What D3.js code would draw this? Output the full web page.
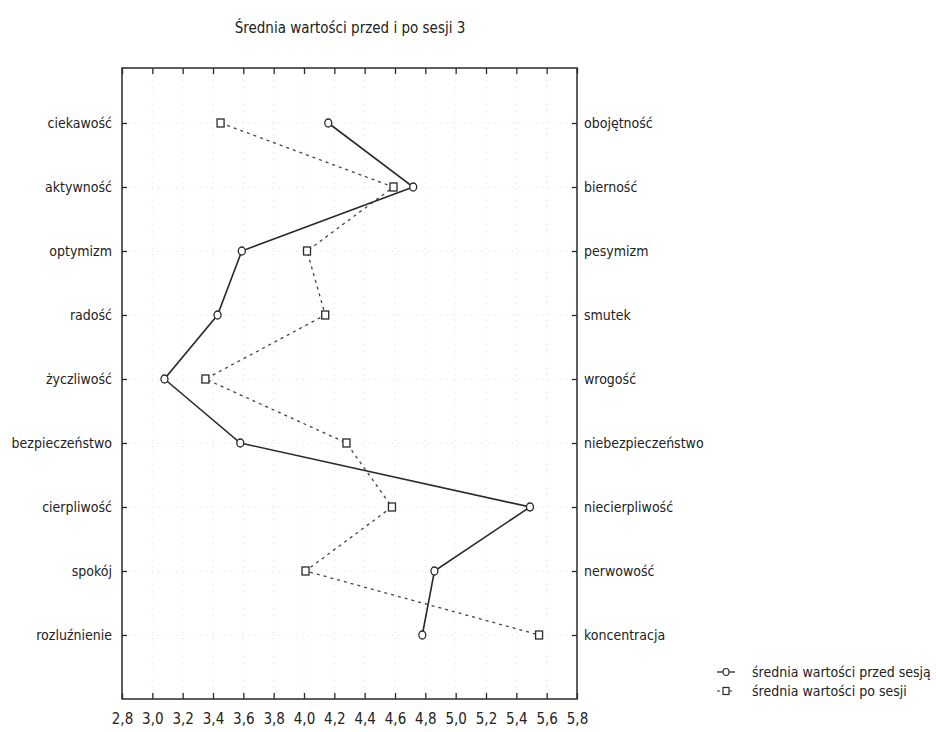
<!DOCTYPE html>
<html>
<head>
<meta charset="utf-8">
<script src="https://cdn.jsdelivr.net/npm/d3@7"></script>
<style>
  body { margin: 0; background: #fff; }
  text { font-family: "Liberation Sans Narrow", "DejaVu Sans Condensed", "Liberation Sans", sans-serif; fill: #222; }
</style>
</head>
<body>
<div id="chart"></div>
<script>
const leftLabels = ['ciekawość', 'aktywność', 'optymizm', 'radość', 'życzliwość', 'bezpieczeństwo', 'cierpliwość', 'spokój', 'rozluźnienie'];
const rightLabels = ['obojętność', 'bierność', 'pesymizm', 'smutek', 'wrogość', 'niebezpieczeństwo', 'niecierpliwość', 'nerwowość', 'koncentracja'];
const beforeValues = [4.16, 4.72, 3.59, 3.43, 3.08, 3.58, 5.49, 4.86, 4.78];
const afterValues = [3.45, 4.59, 4.02, 4.14, 3.35, 4.28, 4.58, 4.01, 5.55];
const xTicks = [2.8, 3.0, 3.2, 3.4, 3.6, 3.8, 4.0, 4.2, 4.4, 4.6, 4.8, 5.0, 5.2, 5.4, 5.6, 5.8];
const titleText = 'Średnia wartości przed i po sesji 3';
const legendLabels = ['średnia wartości przed sesją', 'średnia wartości po sesji'];

const W = 936, H = 732;
const frame = { left: 122, right: 577, top: 68, bottom: 699 };
const ink = '#2a2a2a';

const svg = d3.select('#chart').append('svg').attr('width', W).attr('height', H);

const x = d3.scaleLinear().domain([2.8, 5.8]).range([frame.left, frame.right]);
const y = d3.scalePoint().domain(d3.range(leftLabels.length)).range([123, 635]);
const fmt = v => d3.format('.1f')(v).replace('.', ',');

// faint dotted grid
const grid = svg.append('g').attr('stroke', '#ddd').attr('stroke-width', 1).attr('stroke-dasharray', '1,5');
grid.selectAll('.gv').data(xTicks.slice(1, -1)).enter().append('line')
    .attr('x1', d => x(d)).attr('x2', d => x(d)).attr('y1', frame.top).attr('y2', frame.bottom);
grid.selectAll('.gh').data(d3.range(leftLabels.length)).enter().append('line')
    .attr('x1', frame.left).attr('x2', frame.right).attr('y1', d => y(d)).attr('y2', d => y(d));

// title
svg.append('text').attr('x', 350).attr('y', 33).attr('text-anchor', 'middle')
    .attr('font-size', '15px').text(titleText);

// frame
svg.append('rect').attr('x', frame.left).attr('y', frame.top)
    .attr('width', frame.right - frame.left).attr('height', frame.bottom - frame.top)
    .attr('fill', 'none').attr('stroke', ink).attr('stroke-width', 1.5);

// bottom axis (ticks inward)
const bottomAxis = d3.axisBottom(x).tickValues(xTicks).tickFormat(fmt).tickSizeInner(-6).tickSizeOuter(0).tickPadding(14);
const gb = svg.append('g').attr('transform', `translate(0,${frame.bottom})`).call(bottomAxis);
const topAxis = d3.axisTop(x).tickValues(xTicks).tickFormat('').tickSizeInner(-6).tickSizeOuter(0);
const gt = svg.append('g').attr('transform', `translate(0,${frame.top})`).call(topAxis);

// left / right axes
const leftAxis = d3.axisLeft(y).tickFormat(i => leftLabels[i]).tickSizeInner(-5).tickSizeOuter(0).tickPadding(10);
const gl = svg.append('g').attr('transform', `translate(${frame.left},0)`).call(leftAxis);
const rightAxis = d3.axisRight(y).tickFormat(i => rightLabels[i]).tickSizeInner(-5).tickSizeOuter(0).tickPadding(7);
const gr = svg.append('g').attr('transform', `translate(${frame.right},0)`).call(rightAxis);

[gb, gt, gl, gr].forEach(g => {
    g.select('.domain').remove();
    g.selectAll('.tick line').attr('stroke', ink).attr('stroke-width', 1.3);
    g.selectAll('.tick text').attr('fill', ink).attr('font-size', '14px')
        .attr('font-family', '"Liberation Sans Narrow", "DejaVu Sans Condensed", sans-serif');
});
gb.selectAll('.tick text').attr('font-size', '15px');

// series
const lineGen = d3.line().x(d => x(d.v)).y(d => y(d.i));
const before = beforeValues.map((v, i) => ({ v, i }));
const after = afterValues.map((v, i) => ({ v, i }));

svg.append('path').datum(after).attr('d', lineGen)
    .attr('fill', 'none').attr('stroke', '#444').attr('stroke-width', 1.3).attr('stroke-dasharray', '3,4');
svg.append('path').datum(before).attr('d', lineGen)
    .attr('fill', 'none').attr('stroke', ink).attr('stroke-width', 1.6);

svg.selectAll('.sq').data(after).enter().append('rect')
    .attr('x', d => x(d.v) - 3.5).attr('y', d => y(d.i) - 4)
    .attr('width', 7).attr('height', 8)
    .attr('fill', '#fff').attr('stroke', ink).attr('stroke-width', 1.3);
svg.selectAll('.ci').data(before).enter().append('ellipse')
    .attr('cx', d => x(d.v)).attr('cy', d => y(d.i)).attr('rx', 3.5).attr('ry', 4)
    .attr('fill', '#fff').attr('stroke', ink).attr('stroke-width', 1.3);

// legend
const lg = svg.append('g').attr('transform', 'translate(717,0)');
const ly = [672, 691];
lg.append('line').attr('x1', 0).attr('x2', 18).attr('y1', ly[0]).attr('y2', ly[0]).attr('stroke', ink).attr('stroke-width', 1.3);
lg.append('ellipse').attr('cx', 9).attr('cy', ly[0]).attr('rx', 3).attr('ry', 3.5).attr('fill', '#fff').attr('stroke', ink).attr('stroke-width', 1.2);
lg.append('line').attr('x1', 0).attr('x2', 18).attr('y1', ly[1]).attr('y2', ly[1]).attr('stroke', ink).attr('stroke-width', 1.2).attr('stroke-dasharray', '3,9');
lg.append('rect').attr('x', 6).attr('y', ly[1] - 3.5).attr('width', 6).attr('height', 7).attr('fill', '#fff').attr('stroke', ink).attr('stroke-width', 1.2);
legendLabels.forEach((t, i) => {
    lg.append('text').attr('x', 35).attr('y', ly[i] + 5).attr('font-size', '14px').attr('fill', ink).text(t);
});
</script>
</body>
</html>
